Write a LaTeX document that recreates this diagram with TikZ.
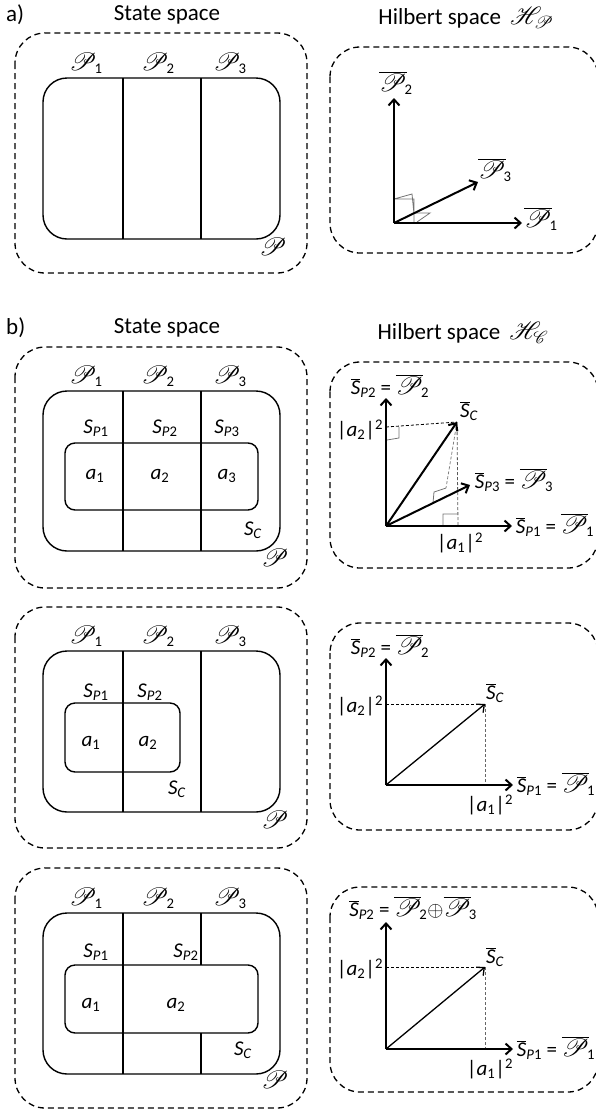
\documentclass[tikz,border=0pt]{standalone}
\usepackage{fontspec}
\setmainfont{Carlito}
\usepackage{mathrsfs}
\usetikzlibrary{arrows.meta}

\newcommand{\bigP}{\scalebox{1.2}{$\mathscr{P}$}}
\newcommand{\scrP}[1]{\bigP\kern-2pt\textsubscript{#1}}
\newcommand{\vecP}[1]{\scalebox{1.2}{$\overline{\mathscr{P}}$}\kern-2pt\textsubscript{#1}}
\newcommand{\subS}[1]{\textit{S}\textsubscript{\textit{P}#1}}
\newcommand{\vecS}[1]{$\overline{\mbox{\textit{S}}}$\textsubscript{#1}}
\newcommand{\asq}[1]{|\textit{a}\textsubscript{#1}|\textsuperscript{2}}

\tikzset{
  outer/.style={dash pattern=on 6pt off 4pt,line width=1.3pt,rounded corners=30pt},
  region/.style={line width=1.4pt,rounded corners=24pt},
  cset/.style={line width=1.4pt,rounded corners=10pt},
  axis/.style={line width=2pt,-{Straight Barb[length=6pt,width=11pt]}},
  vec/.style={line width=1.3pt,-{Straight Barb[length=6pt,width=11pt]}},
  proj/.style={dash pattern=on 3pt off 2pt,line width=0.8pt},
  rmark/.style={line width=0.8pt,black!55},
  lab/.style={inner sep=0pt,font=\fontsize{21}{24}\selectfont},
  ttl/.style={inner sep=0pt,font=\fontsize{23}{26}\selectfont}
}

\begin{document}
\begin{tikzpicture}[x=1pt,y=-1pt]
  \useasboundingbox (0,0) rectangle (595,1112);

  % a) state space
  \node[ttl,anchor=west] (tagA) at (6,15){a)};
  \node[ttl] (ssA) at (167,15){State space};
  \draw[outer] (15,33) rectangle (307,273);
  \draw[region] (43,78) rectangle (280,239);
  \draw[line width=1.4pt] (123,78)--(123,239) (201,78)--(201,239);
  \node[lab] (p1A) at (86,63){\scrP{1}};
  \node[lab] (p2A) at (158,63){\scrP{2}};
  \node[lab] (p3A) at (230,63){\scrP{3}};
  \node[lab] (pA) at (273,247){\bigP};

  % a) Hilbert space
  \node[ttl] (hsA) at (466,18){Hilbert space\, $\mathscr{H}_{\mathscr{P}}$};
  \draw[outer] (330,47) rectangle (598,253);
  \coordinate (oA) at (394,223);
  \coordinate (e1A) at (522,223);
  \coordinate (e2A) at (394,98);
  \coordinate (e3A) at (478,182);
  \draw[rmark] (394,199)--(412,194)--(414,214) (394,199)--(414,199)--(414,223) (414,213)--(430,213)--(417,222);
  \draw[axis] (oA)--(e1A);
  \draw[axis] (oA)--(e2A);
  \draw[axis] (oA)--(e3A);
  \node[lab] (v1A) at (541,219){\vecP{1}};
  \node[lab] (v2A) at (396,83){\vecP{2}};
  \node[lab] (v3A) at (495,170){\vecP{3}};

  % b) first case, state space
  \node[ttl,anchor=west] (tagB) at (6,328){b)};
  \node[ttl] (ssB) at (167,328){State space};
  \draw[outer] (15,347) rectangle (307,588);
  \draw[region] (43,391) rectangle (280,551);
  \draw[line width=1.4pt] (123,391)--(123,551) (201,391)--(201,551);
  \draw[cset] (65,443) rectangle (258,510);
  \node[lab] (p1B) at (86,376){\scrP{1}};
  \node[lab] (p2B) at (158,376){\scrP{2}};
  \node[lab] (p3B) at (230,376){\scrP{3}};
  \node[lab] (s1B) at (96,428){\subS{1}};
  \node[lab] (s2B) at (165,428){\subS{2}};
  \node[lab] (s3B) at (227,428){\subS{3}};
  \node[lab] (a1B) at (95,476){\textit{a}\textsubscript{1}};
  \node[lab] (a2B) at (160,476){\textit{a}\textsubscript{2}};
  \node[lab] (a3B) at (227,476){\textit{a}\textsubscript{3}};
  \node[lab] (scB) at (253,530){\textit{S}\textsubscript{\textit{C}}};
  \node[lab] (pB) at (275,558){\bigP};

  % b) first case, Hilbert space
  \node[ttl] (hsB) at (463,333){Hilbert space\, $\mathscr{H}_{\mathscr{C}}$};
  \draw[outer] (330,362) rectangle (598,568);
  \coordinate (oB) at (386,526);
  \coordinate (e1B) at (512,526);
  \coordinate (e2B) at (386,398);
  \coordinate (e3B) at (470,485);
  \coordinate (sB) at (457,422);
  \coordinate (hB) at (386,427);
  \coordinate (fB) at (458,526);
  \coordinate (gB) at (446,488);
  \draw[proj] (hB)--(sB);
  \draw[proj,black!65] (sB)--(fB);
  \draw[proj,black!50] (sB)--(gB);
  \draw[rmark] (387,440)--(399,438)--(399,427) (443,526)--(443,514)--(457,514) (433,503)--(434,492)--(446,488);
  \draw[axis] (oB)--(e1B);
  \draw[axis] (oB)--(e2B);
  \draw[axis] (oB)--(sB);
  \draw[axis] (oB)--(e3B);
  \node[lab] (v2B) at (390,386){\vecS{\textit{P}2} = \vecP{2}};
  \node[lab] (v1B) at (555,525){\vecS{\textit{P}1} = \vecP{1}};
  \node[lab] (v3B) at (514,480){\vecS{\textit{P}3} = \vecP{3}};
  \node[lab] (vcB) at (469,411){\vecS{\textit{C}}};
  \node[lab] (q2B) at (360,430){\asq{2}};
  \node[lab] (q1B) at (460,543){\asq{1}};

  % b) second case, state space
  \draw[outer] (15,607) rectangle (307,848);
  \draw[region] (43,651) rectangle (280,812);
  \draw[line width=1.4pt] (123,651)--(123,812) (201,651)--(201,812);
  \draw[cset] (65,703) rectangle (180,772);
  \node[lab] (p1C) at (86,636){\scrP{1}};
  \node[lab] (p2C) at (158,636){\scrP{2}};
  \node[lab] (p3C) at (230,636){\scrP{3}};
  \node[lab] (s1C) at (96,692){\subS{1}};
  \node[lab] (s2C) at (150,692){\subS{2}};
  \node[lab] (a1C) at (91,743){\textit{a}\textsubscript{1}};
  \node[lab] (a2C) at (148,743){\textit{a}\textsubscript{2}};
  \node[lab] (scC) at (177,789){\textit{S}\textsubscript{\textit{C}}};
  \node[lab] (pC) at (275,820){\bigP};

  % b) second case, Hilbert space
  \draw[outer] (330,623) rectangle (598,830);
  \coordinate (oC) at (386,785);
  \coordinate (e1C) at (513,785);
  \coordinate (e2C) at (386,658);
  \coordinate (sC) at (485,704);
  \coordinate (hC) at (386,704);
  \coordinate (fC) at (485,785);
  \draw[proj] (hC)--(sC);
  \draw[proj,black!60] (sC)--(fC);
  \draw[axis] (oC)--(e1C);
  \draw[axis] (oC)--(e2C);
  \draw[vec] (oC)--(sC);
  \node[lab] (v2C) at (390,646){\vecS{\textit{P}2} = \vecP{2}};
  \node[lab] (v1C) at (556,784){\vecS{\textit{P}1} = \vecP{1}};
  \node[lab] (vcC) at (495,693){\vecS{\textit{C}}};
  \node[lab] (q2C) at (360,706){\asq{2}};
  \node[lab] (q1C) at (490,805){\asq{1}};

  % b) third case, state space
  \draw[outer] (15,868) rectangle (307,1108);
  \draw[region] (43,913) rectangle (280,1074);
  \draw[line width=1.4pt] (123,913)--(123,1074) (201,913)--(201,965) (201,1033)--(201,1074);
  \draw[cset] (65,965) rectangle (258,1033);
  \node[lab] (p1D) at (86,898){\scrP{1}};
  \node[lab] (p2D) at (158,898){\scrP{2}};
  \node[lab] (p3D) at (230,898){\scrP{3}};
  \node[lab] (s1D) at (96,952){\subS{1}};
  \node[lab] (s2D) at (186,952){\subS{2}};
  \node[lab] (a1D) at (91,1005){\textit{a}\textsubscript{1}};
  \node[lab] (a2D) at (176,1005){\textit{a}\textsubscript{2}};
  \node[lab] (scD) at (243,1050){\textit{S}\textsubscript{\textit{C}}};
  \node[lab] (pD) at (275,1080){\bigP};

  % b) third case, Hilbert space
  \draw[outer] (330,887) rectangle (598,1092);
  \coordinate (oD) at (386,1049);
  \coordinate (e1D) at (513,1049);
  \coordinate (e2D) at (386,922);
  \coordinate (sD) at (485,967);
  \coordinate (hD) at (386,967);
  \coordinate (fD) at (485,1049);
  \draw[proj] (hD)--(sD);
  \draw[proj,black!60] (sD)--(fD);
  \draw[axis] (oD)--(e1D);
  \draw[axis] (oD)--(e2D);
  \draw[vec] (oD)--(sD);
  \node[lab] (v2D) at (413,908){\vecS{\textit{P}2} = \vecP{2}$\oplus$\vecP{3}};
  \node[lab] (v1D) at (556,1048){\vecS{\textit{P}1} = \vecP{1}};
  \node[lab] (vcD) at (495,957){\vecS{\textit{C}}};
  \node[lab] (q2D) at (360,969){\asq{2}};
  \node[lab] (q1D) at (490,1069){\asq{1}};
\end{tikzpicture}
\end{document}
